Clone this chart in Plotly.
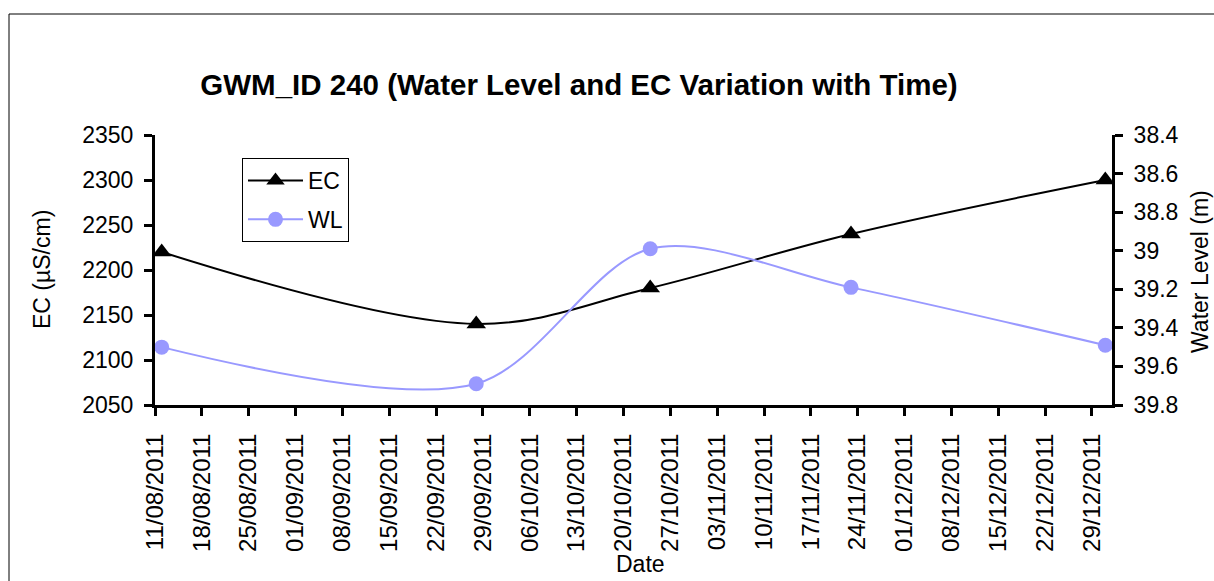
import plotly.graph_objects as go

# ---- data ----
dates = ["2011-08-12", "2011-09-28", "2011-10-24", "2011-11-23", "2011-12-31"]
ec_values = [2220, 2140, 2180, 2240, 2300]
wl_values = [39.5, 39.69, 38.99, 39.19, 39.49]

x_range = ["2011-08-11", "2012-01-01"]
ec_range = [2050, 2350]
wl_range = [39.8, 38.4]

title_text = "GWM_ID 240 (Water Level and EC Variation with Time)"
FONT = "Arial, 'Liberation Sans', sans-serif"
WL_COLOR = "#9999FF"

fig = go.Figure()
fig.add_trace(go.Scatter(
    x=dates, y=ec_values, name="EC", mode="lines+markers",
    line=dict(color="black", width=2, shape="spline", smoothing=1),
    marker=dict(symbol="triangle-up", size=17, color="black"),
    legendgroup="ec", yaxis="y"))
fig.add_trace(go.Scatter(
    x=dates, y=wl_values, name="WL", mode="lines+markers",
    line=dict(color=WL_COLOR, width=2, shape="spline", smoothing=0.9),
    marker=dict(symbol="circle", size=15, color=WL_COLOR),
    legendgroup="wl", yaxis="y2"))

axis_common = dict(showgrid=False, zeroline=False, showline=True,
                   linecolor="black", linewidth=3, ticks="outside",
                   tickcolor="black", tickwidth=3, ticklen=8,
                   tickfont=dict(family=FONT, size=23, color="black"))

fig.update_layout(
    width=1214, height=581,
    margin=dict(l=155, r=102, t=135, b=176),
    paper_bgcolor="white", plot_bgcolor="white",
    font=dict(family=FONT, color="black"),
    title=dict(text="<b>" + title_text + "</b>", font=dict(family=FONT, size=29.5, color="black"),
               x=579 / 1214, xref="container", xanchor="center",
               y=1 - 85 / 581, yref="container", yanchor="middle"),
    xaxis=dict(**{**axis_common, "tickfont": dict(family=FONT, size=24, color="black")},
               type="date", range=x_range,
               tick0="2011-08-11", dtick=7 * 24 * 3600 * 1000,
               tickformat="%d/%m/%Y", tickangle=-90, ticklabelstandoff=8),
    yaxis=dict(**axis_common, range=ec_range, dtick=50, ticklabelstandoff=6),
    yaxis2=dict(**axis_common, range=wl_range, dtick=0.2, overlaying="y",
                side="right", anchor="x", ticklabelstandoff=6),
    yaxis3=dict(showgrid=False, zeroline=False, showline=False, range=wl_range,
                dtick=0.2, overlaying="y", side="right", anchor="x",
                ticks="inside", tickcolor="black", tickwidth=3, ticklen=8,
                showticklabels=False),
    legend=dict(x=(242 - 155) / 957, y=(405 - 158) / 270, xanchor="left", yanchor="top",
                bgcolor="white", bordercolor="black", borderwidth=1,
                font=dict(family=FONT, size=23, color="black"),
                traceorder="grouped", tracegroupgap=6, itemwidth=55),
    showlegend=True,
)

fig.add_annotation(text="EC (µS/cm)", textangle=-90, xref="paper", yref="paper",
                   x=(42 - 155) / 957, y=(405 - 270) / 270, showarrow=False,
                   xanchor="center", yanchor="middle",
                   font=dict(family=FONT, size=23, color="black"))
fig.add_annotation(text="Water Level (m)", textangle=-90, xref="paper", yref="paper",
                   x=(1200 - 155) / 957, y=(405 - 272) / 270, showarrow=False,
                   xanchor="center", yanchor="middle",
                   font=dict(family=FONT, size=23, color="black"))
fig.add_annotation(text="Date", xref="paper", yref="paper",
                   x=(640 - 155) / 957, y=(405 - 564) / 270, showarrow=False,
                   xanchor="center", yanchor="middle",
                   font=dict(family=FONT, size=23, color="black"))

# outer chart-area border
fig.add_shape(type="rect", xref="paper", yref="paper",
              x0=(9 - 155) / 957, x1=(1400 - 155) / 957,
              y0=(405 - 800) / 270, y1=(405 - 14) / 270,
              line=dict(color="black", width=1), fillcolor="rgba(0,0,0,0)", layer="below")

fig.write_html("out.html", config={"displayModeBar": False},
               post_script="document.body.style.margin='0px';document.body.style.overflow='hidden';")
